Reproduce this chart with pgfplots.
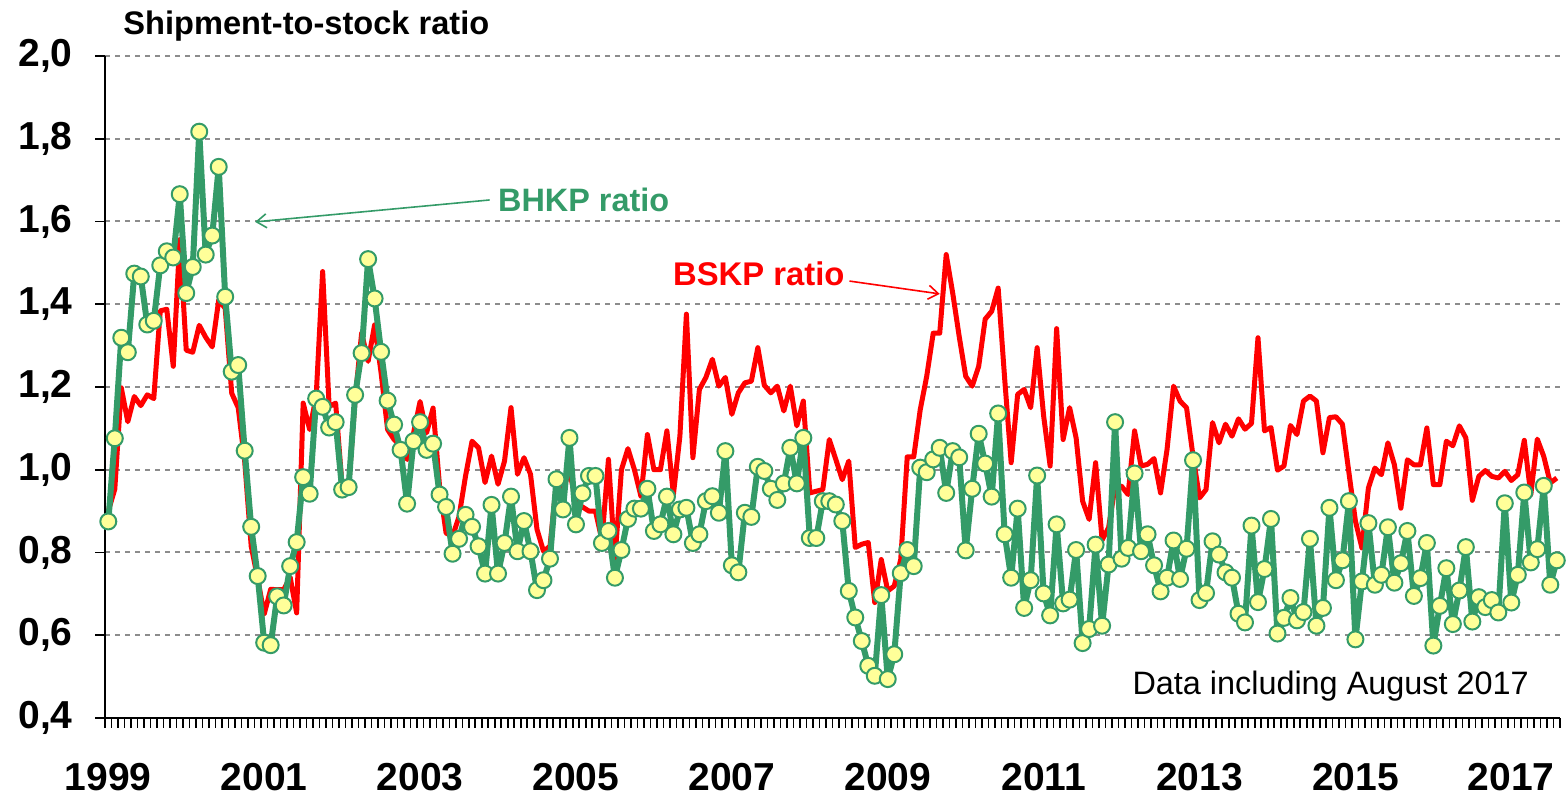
\documentclass[border=0pt]{standalone}
\usepackage{pgfplots}
\pgfplotsset{compat=1.18}
\usepackage{pgfplotstable}
\usepackage{fontspec}
\setmainfont{Liberation Sans}
\usetikzlibrary{arrows.meta}

\definecolor{bhkp}{RGB}{52,155,104}
\definecolor{mfill}{RGB}{255,255,153}
\definecolor{gridgray}{RGB}{140,140,140}

% i = month index from Jan 1999, r = BSKP ratio, g = BHKP ratio
\pgfplotstableread[row sep=\\]{
i r g \\
0 0.900 0.875 \\ 1 0.953 1.076 \\ 2 1.198 1.319 \\ 3 1.116 1.284 \\ 4 1.177 1.474 \\ 5 1.155 1.467 \\
6 1.181 1.351 \\ 7 1.172 1.360 \\ 8 1.384 1.494 \\ 9 1.388 1.528 \\ 10 1.250 1.513 \\ 11 1.556 1.666 \\
12 1.289 1.427 \\ 13 1.284 1.490 \\ 14 1.349 1.817 \\ 15 1.320 1.520 \\ 16 1.297 1.566 \\ 17 1.410 1.732 \\
18 1.390 1.418 \\ 19 1.185 1.237 \\ 20 1.150 1.253 \\ 21 1.020 1.046 \\ 22 0.815 0.862 \\ 23 0.737 0.743 \\
24 0.651 0.582 \\ 25 0.711 0.576 \\ 26 0.710 0.694 \\ 27 0.710 0.672 \\ 28 0.740 0.767 \\ 29 0.654 0.825 \\
30 1.161 0.982 \\ 31 1.097 0.942 \\ 32 1.177 1.172 \\ 33 1.479 1.152 \\ 34 1.153 1.102 \\ 35 1.161 1.115 \\
36 0.960 0.952 \\ 37 0.960 0.958 \\ 38 1.170 1.181 \\ 39 1.330 1.282 \\ 40 1.262 1.509 \\ 41 1.350 1.414 \\
42 1.234 1.285 \\ 43 1.097 1.167 \\ 44 1.073 1.109 \\ 45 1.057 1.048 \\ 46 1.025 0.918 \\ 47 1.089 1.069 \\
48 1.165 1.115 \\ 49 1.089 1.048 \\ 50 1.149 1.063 \\ 51 0.960 0.940 \\ 52 0.847 0.910 \\ 53 0.839 0.797 \\
54 0.887 0.833 \\ 55 0.985 0.891 \\ 56 1.069 0.862 \\ 57 1.053 0.815 \\ 58 0.969 0.749 \\ 59 1.033 0.915 \\
60 0.965 0.749 \\ 61 1.021 0.823 \\ 62 1.150 0.935 \\ 63 0.989 0.803 \\ 64 1.029 0.876 \\ 65 0.989 0.803 \\
66 0.856 0.709 \\ 67 0.803 0.733 \\ 68 0.815 0.785 \\ 69 0.970 0.977 \\ 70 0.950 0.904 \\ 71 1.000 1.077 \\
72 0.920 0.868 \\ 73 0.910 0.943 \\ 74 0.900 0.985 \\ 75 0.900 0.985 \\ 76 0.830 0.823 \\ 77 1.025 0.852 \\
78 0.783 0.739 \\ 79 1.000 0.806 \\ 80 1.051 0.881 \\ 81 1.000 0.906 \\ 82 0.936 0.906 \\ 83 1.085 0.954 \\
84 1.000 0.852 \\ 85 1.000 0.868 \\ 86 1.094 0.935 \\ 87 0.940 0.844 \\ 88 1.081 0.904 \\ 89 1.376 0.908 \\
90 1.029 0.823 \\ 91 1.194 0.844 \\ 92 1.223 0.924 \\ 93 1.267 0.936 \\ 94 1.202 0.896 \\ 95 1.223 1.045 \\
96 1.134 0.769 \\ 97 1.186 0.752 \\ 98 1.210 0.896 \\ 99 1.214 0.886 \\ 100 1.295 1.007 \\ 101 1.204 0.997 \\
102 1.186 0.954 \\ 103 1.202 0.927 \\ 104 1.142 0.967 \\ 105 1.202 1.053 \\ 106 1.106 0.967 \\ 107 1.166 1.077 \\
108 0.944 0.835 \\ 109 0.948 0.835 \\ 110 0.952 0.924 \\ 111 1.073 0.924 \\ 112 1.025 0.916 \\ 113 0.976 0.876 \\
114 1.021 0.707 \\ 115 0.812 0.643 \\ 116 0.820 0.586 \\ 117 0.824 0.526 \\ 118 0.679 0.502 \\ 119 0.783 0.697 \\
120 0.707 0.494 \\ 121 0.719 0.554 \\ 122 0.783 0.750 \\ 123 1.031 0.806 \\ 124 1.031 0.767 \\ 125 1.145 1.005 \\
126 1.226 0.994 \\ 127 1.330 1.025 \\ 128 1.330 1.053 \\ 129 1.520 0.944 \\ 130 1.427 1.045 \\ 131 1.322 1.030 \\
132 1.226 0.805 \\ 133 1.202 0.954 \\ 134 1.250 1.087 \\ 135 1.364 1.015 \\ 136 1.383 0.935 \\ 137 1.439 1.136 \\
138 1.220 0.844 \\ 139 1.017 0.739 \\ 140 1.182 0.906 \\ 141 1.194 0.666 \\ 142 1.150 0.733 \\ 143 1.295 0.986 \\
144 1.130 0.701 \\ 145 1.009 0.648 \\ 146 1.341 0.868 \\ 147 1.073 0.677 \\ 148 1.150 0.686 \\ 149 1.077 0.806 \\
150 0.924 0.581 \\ 151 0.880 0.615 \\ 152 1.017 0.819 \\ 153 0.830 0.623 \\ 154 0.860 0.771 \\ 155 0.960 1.115 \\
156 0.960 0.785 \\ 157 0.940 0.811 \\ 158 1.094 0.991 \\ 159 1.009 0.803 \\ 160 1.013 0.844 \\ 161 1.027 0.769 \\
162 0.944 0.706 \\ 163 1.049 0.739 \\ 164 1.202 0.829 \\ 165 1.166 0.736 \\ 166 1.150 0.809 \\ 167 1.033 1.023 \\
168 0.932 0.685 \\ 169 0.952 0.702 \\ 170 1.114 0.827 \\ 171 1.065 0.795 \\ 172 1.110 0.752 \\ 173 1.081 0.739 \\
174 1.123 0.652 \\ 175 1.098 0.631 \\ 176 1.112 0.865 \\ 177 1.319 0.680 \\ 178 1.094 0.760 \\ 179 1.102 0.881 \\
180 0.999 0.604 \\ 181 1.009 0.642 \\ 182 1.107 0.690 \\ 183 1.085 0.636 \\ 184 1.166 0.656 \\ 185 1.178 0.833 \\
186 1.166 0.623 \\ 187 1.041 0.666 \\ 188 1.126 0.908 \\ 189 1.128 0.733 \\ 190 1.110 0.781 \\ 191 0.993 0.924 \\
192 0.876 0.590 \\ 193 0.811 0.730 \\ 194 0.956 0.871 \\ 195 1.004 0.722 \\ 196 0.988 0.746 \\ 197 1.065 0.861 \\
198 1.012 0.727 \\ 199 0.907 0.774 \\ 200 1.024 0.852 \\ 201 1.012 0.695 \\ 202 1.012 0.738 \\ 203 1.101 0.823 \\
204 0.964 0.575 \\ 205 0.964 0.671 \\ 206 1.069 0.762 \\ 207 1.058 0.627 \\ 208 1.106 0.708 \\ 209 1.077 0.813 \\
210 0.926 0.633 \\ 211 0.984 0.692 \\ 212 0.998 0.668 \\ 213 0.984 0.685 \\ 214 0.980 0.655 \\ 215 0.996 0.919 \\
216 0.974 0.679 \\ 217 0.988 0.746 \\ 218 1.071 0.945 \\ 219 0.940 0.776 \\ 220 1.074 0.808 \\ 221 1.032 0.961 \\
222 0.968 0.722 \\ 223 0.980 0.781 \\
}\ratios

\begin{document}
\begin{tikzpicture}
\begin{axis}[
    width=727.5pt, height=331pt,
    scale only axis,
    clip=false,
    xmin=-0.5, xmax=223.5,
    ymin=0.4, ymax=2.0,
    axis x line*=bottom, axis y line*=left,
    axis line style={black, line width=1pt},
    ytick={0.4,0.6,0.8,1.0,1.2,1.4,1.6,1.8,2.0},
    yticklabel style={font=\fontsize{19.5}{20}\selectfont\bfseries, inner sep=0pt, xshift=-11pt},
    /pgf/number format/.cd, fixed, fixed zerofill, precision=1, use comma, assume math mode=true,
    /pgfplots/.cd,
    xtick={-0.5,0.5,...,223.5},
    xticklabels={},
    extra x ticks={0,24,48,72,96,120,144,168,192,216},
    extra x tick labels={1999,2001,2003,2005,2007,2009,2011,2013,2015,2017},
    extra x tick style={major tick length=0pt,
        xticklabel style={font=\fontsize{19.5}{20}\selectfont\bfseries, inner sep=0pt, anchor=north, yshift=-22.3pt}},
    tick align=outside,
    major tick length=5pt,
    tick style={black, line width=0.8pt},
    ymajorgrids,
    major grid style={gridgray, line width=1pt, dash pattern=on 2.5pt off 2.5pt},
]
% fix the bounding box to the reference proportions
\path (rel axis cs:-0.0722,-0.1178) rectangle (rel axis cs:1.0055,1.0846);

\addplot[red, line width=2.5pt, line join=round] table[x=i, y=r] {\ratios};
\addplot[bhkp, line width=3pt, line join=round,
    mark=*, mark size=4pt,
    mark options={fill=mfill, draw=bhkp, line width=1pt}] table[x=i, y=g] {\ratios};

\node[anchor=base west, font=\fontsize{16.3}{17}\selectfont\bfseries, inner sep=0pt]
    at (axis cs:2.27,2.051) {Shipment-to-stock ratio};
\node[anchor=base west, font=\fontsize{16.2}{17}\selectfont\bfseries, text=bhkp, inner sep=0pt]
    at (axis cs:59.96,1.623) {BHKP ratio};
\draw[bhkp, line width=0.8pt, -{Straight Barb[length=5pt,width=7pt]}]
    (axis cs:58.7,1.652) -- (axis cs:22.6,1.599);
\node[anchor=base west, font=\fontsize{16.4}{17}\selectfont\bfseries, text=red, inner sep=0pt]
    at (axis cs:86.9,1.445) {BSKP ratio};
\draw[red, line width=0.8pt, -{Straight Barb[length=5pt,width=7pt]}]
    (axis cs:114.1,1.456) -- (axis cs:128.0,1.425);
\node[anchor=base east, font=\fontsize{16.2}{17}\selectfont, inner sep=0pt]
    at (axis cs:218.75,0.457) {Data including August 2017};
\end{axis}
\end{tikzpicture}
\end{document}
